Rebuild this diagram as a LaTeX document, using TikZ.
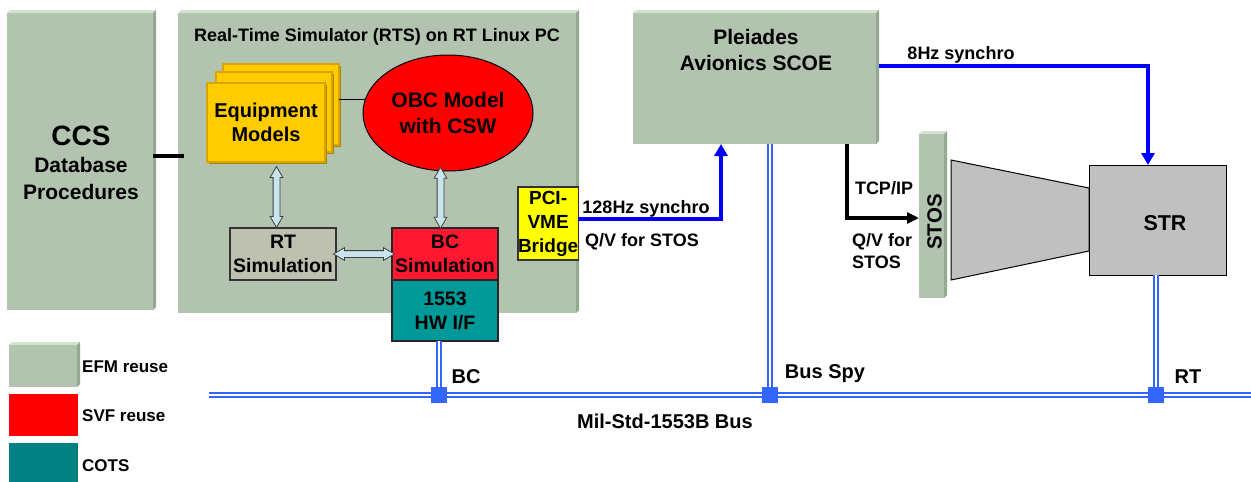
\documentclass[tikz,border=0pt]{standalone}
\usepackage{fontspec}
\setmainfont{Liberation Sans}
\usetikzlibrary{calc,shapes.geometric,shapes.arrows,arrows.meta,shadows}

\definecolor{efm}{HTML}{B2C4B0}
\definecolor{efmtop}{HTML}{D2E3CE}
\definecolor{efmside}{HTML}{94A892}
\definecolor{gold}{HTML}{FFCC00}
\definecolor{goldedge}{HTML}{D9A400}
\definecolor{goldshadow}{HTML}{A88600}
\definecolor{simred}{HTML}{FF1830}
\definecolor{obcred}{HTML}{FF0000}
\definecolor{rtgray}{HTML}{BEC1AF}
\definecolor{hwteal}{HTML}{009999}
\definecolor{cotsteal}{HTML}{008080}
\definecolor{bridgey}{HTML}{FFFF00}
\definecolor{busblue}{HTML}{3366FF}
\definecolor{sigblue}{HTML}{0000FF}
\definecolor{strgray}{HTML}{C0C0C0}
\definecolor{dblfill}{HTML}{C8E4EC}

\newcommand\fsz[2]{\fontsize{#1}{#2}\selectfont\bfseries}

\begin{document}
\begin{tikzpicture}[x=1pt,y=-1pt,
  box/.style={rectangle, anchor=north west, inner sep=0pt, outer sep=0pt},
  panel/.style={box, path picture={
      \path (path picture bounding box.north west) coordinate (pNW)
            (path picture bounding box.north east) coordinate (pNE)
            (path picture bounding box.south east) coordinate (pSE)
            (path picture bounding box.south west) coordinate (pSW);
      \fill[efm] (pSW) rectangle ($(pNE)+(-3,3)$);
      \fill[efmtop] ($(pNW)+(0,3)$) -- ($(pNW)+(3,0)$) -- (pNE) -- ($(pNE)+(-3,3)$) -- cycle;
      \fill[efmside] ($(pNE)+(-3,3)$) -- (pNE) -- ($(pSE)+(0,-3)$) -- ($(pSE)+(-3,0)$) -- cycle;
  }},
  eqsheet/.style={box, fill=gold, draw=goldedge, line width=1.2,
      drop shadow={opacity=1, fill=goldshadow, shadow xshift=2pt, shadow yshift=-2pt}},
  unit/.style={box, line width=1.1, align=center, font=\fsz{19.5}{24}},
  dblarr/.style={double arrow, draw=black!75, fill=dblfill, line width=0.8,
      inner sep=3pt, double arrow head extend=3pt, double arrow tip angle=60,
      double arrow head indent=0pt, minimum width=0pt, minimum height=61},
  lbl/.style={inner sep=0pt, font=\fsz{18}{22}, text height=13, text depth=0},
  bus/.style={draw=busblue, line width=2, double=white, double distance=2},
  junc/.style={rectangle, fill=busblue, minimum size=16, inner sep=0pt},
  sig/.style={draw=sigblue, line width=3.5, -{Triangle[length=12pt, width=13pt]}},
  blk/.style={draw=black, line width=3.5, -{Triangle[length=12pt, width=11pt]}},
]
\useasboundingbox (0,0) rectangle (1251,482);

% --- green blocks ---
\node[panel, minimum width=149, minimum height=300] (ccs) at (7,10) {};
\node[inner sep=0pt, align=center, font=\fsz{21}{27}] (ccstxt) at (81,163)
  {{\fontsize{28}{30}\selectfont CCS}\\Database\\Procedures};
\node[panel, minimum width=401, minimum height=303] (rts) at (178,10) {};
\node[inner sep=0pt, font=\fsz{18}{21}, text height=12.5, text depth=0] (rtstitle) at (377,35)
  {Real-Time Simulator (RTS) on RT Linux PC};
\node[panel, minimum width=246, minimum height=134] (scoe) at (633,10) {};
\node[inner sep=0pt, align=center, font=\fsz{21}{26}] (scoetxt) at (756,50) {Pleiades\\Avionics SCOE};
\node[panel, minimum width=28, minimum height=167] (stos) at (919,131) {};
\node[inner sep=0pt, rotate=90, font=\fsz{20.5}{24}, text height=15, text depth=0] (stostxt) at (934,222) {STOS};

% CCS link into the simulator
\draw[line width=4] ($(ccs.east)+(-3,-4)$) -- ($(rts.west)+(6,-5.5)$);

% --- simulator contents ---
\node[eqsheet, minimum width=116, minimum height=81] (eq3) at (223,64) {};
\node[eqsheet, minimum width=116, minimum height=80] (eq2) at (216,72) {};
\node[eqsheet, minimum width=118, minimum height=79, align=center, font=\fsz{20}{24}] (eq1) at (207,83)
  {Equipment\\Models};
\draw[line width=0.8] ($(eq3.east)+(0,-5.5)$) -- ++(28,0);
\node[ellipse, draw=black, line width=1, fill=obcred, minimum width=170, minimum height=116,
  inner sep=0pt, align=center, font=\fsz{21}{26}] (obc) at (448,113) {OBC Model\\with CSW};

\node[unit, draw=black!80, fill=rtgray, minimum width=106, minimum height=52] (rtsim) at (230,228) {RT\\Simulation};
\node[unit, draw=black!85, fill=simred, minimum width=106, minimum height=52] (bcsim) at (392,228) {BC\\Simulation};
\node[unit, draw=black!85, fill=hwteal, minimum width=106, minimum height=61] (hwif) at (392,280) {1553\\HW I/F};
\node[unit, draw=black!80, fill=bridgey, minimum width=58, minimum height=73, font=\fsz{19}{24}] (bridge) at (518,187)
  {PCI-\\VME\\Bridge};

\node[dblarr, rotate=90] (a1) at ($(eq1.south)!.5!(rtsim.north)+(2,2)$) {};
\node[dblarr, rotate=90] (a2) at ($(obc.south)!.5!(bcsim.north)+(-6,-2)$) {};
\node[dblarr] (a3) at ($(rtsim.east)!.5!(bcsim.west)$) {};

% --- star tracker and its optical head ---
\draw[fill=strgray, draw=black, line width=1] (951,160) -- (1089,188) -- (1089,251) -- (951,280) -- cycle;
\node[box, draw=black, line width=1, fill=strgray, minimum width=137, minimum height=110] (str) at (1089,165) {};
\node[inner sep=0pt, font=\fsz{21.5}{26}, text height=15.5, text depth=0] (strtxt) at (1165,223) {STR};

% --- 1553 bus ---
\coordinate (cbc) at (439,395);
\coordinate (cspy) at (770,395);
\coordinate (crt) at (1156,395);
\coordinate (busL) at (209,395);
\coordinate (busR) at (1251,395);
\draw[bus] (busL) -- (busR);
\draw[bus] (cbc |- hwif.south) -- (cbc);
\draw[bus] (cspy |- scoe.south) -- (cspy);
\draw[bus] (crt |- str.south) -- (crt);
\node[junc] (jbc) at (cbc) {};
\node[junc] (jspy) at (cspy) {};
\node[junc] (jrt) at (crt) {};
\node[lbl, font=\fsz{20}{24}, text height=14.5] (lbc) at (466,376) {BC};
\node[lbl, font=\fsz{20}{24}, text height=14.5] (lspy) at (825,371) {Bus Spy};
\node[lbl, font=\fsz{20}{24}, text height=14.5] (lrt) at (1188,376) {RT};
\node[lbl, font=\fsz{20}{24}, text height=14.5] (lbus) at (665,421) {Mil-Std-1553B Bus};

% --- signal links ---
\draw[sig] ($(bridge.east)+(0,-4.5)$) -| ($(scoe.south)+(-35,0)$);
\draw[sig] ($(scoe.east)+(0,-11)$) -| ($(str.north)+(-9.5,0)$);
\draw[blk] ($(scoe.south)+(91,0)$) |- ($(stos.west)+(0,3.5)$);
\node[lbl] (l128) at (646,207) {128Hz synchro};
\node[lbl] (lqv1) at (642,240) {Q/V for STOS};
\node[lbl] (l8) at (961,53) {8Hz synchro};
\node[lbl] (ltcp) at (884,188) {TCP/IP};
\node[inner sep=0pt, align=left, font=\fsz{18}{22}, anchor=west] (lqv2) at (852,251) {Q/V for\\STOS};

% --- legend ---
\node[panel, minimum width=71, minimum height=45] (legefm) at (9,342) {};
\node[box, fill=obcred, minimum width=69, minimum height=42] (legsvf) at (9,394) {};
\node[box, fill=cotsteal, minimum width=69, minimum height=39] (legcots) at (9,443) {};
\node[lbl, font=\fsz{17}{20}, text height=12.5, anchor=west] (tefm) at (82,366) {EFM reuse};
\node[lbl, font=\fsz{17}{20}, text height=12.5, anchor=west] (tsvf) at (82,415) {SVF reuse};
\node[lbl, font=\fsz{17}{20}, text height=12.5, anchor=west] (tcots) at (82,465) {COTS};
\end{tikzpicture}
\end{document}
